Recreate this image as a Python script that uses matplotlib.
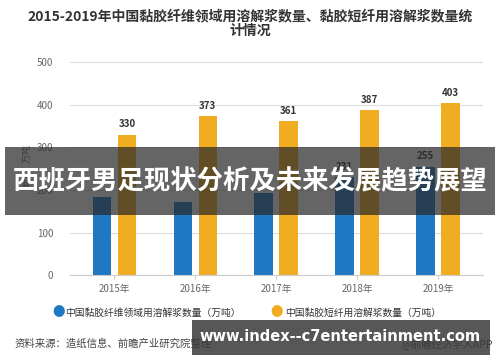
import matplotlib.pyplot as plt
import numpy as np
from matplotlib.patches import Rectangle

plt.rcParams['font.family'] = ['Noto Sans CJK SC', 'DejaVu Sans']

years = ['2015年', '2016年', '2017年', '2018年', '2019年']
fiber = [183, 172, 192, 231, 255]
staple = [330, 373, 361, 387, 403]
shown_fiber = [None, None, None, 231, 255]
yticks = [0, 100, 200, 300, 400, 500]

blue = '#1f78c1'
orange = '#f0ad22'

fig = plt.figure(figsize=(5, 3.62), dpi=100)
ax = fig.add_axes([0.14, 0.24, 0.825, 0.6])

x = np.arange(len(years))
w = 0.23
ax.bar(x - 0.155, fiber, w, color=blue, zorder=2)
ax.bar(x + 0.155, staple, w, color=orange, zorder=2)
for i, v in enumerate(staple):
    ax.text(x[i] + 0.155, v + 12, str(v), ha='center', va='bottom',
            fontsize=7, fontweight='bold', color='#333333')
for i, v in enumerate(shown_fiber):
    if v is not None:
        ax.text(x[i] - 0.155, v + 12, str(v), ha='center', va='bottom',
                fontsize=7, fontweight='bold', color='#333333')

ax.set_ylim(0, 510)
ax.set_xlim(-0.55, 4.55)
ax.set_yticks(yticks)
ax.set_xticks(x)
ax.set_xticklabels(years)
ax.tick_params(axis='y', length=0, labelsize=7, colors='#666666', pad=12)
ax.tick_params(axis='x', length=3, labelsize=7, colors='#666666', color='#cccccc')
ax.grid(axis='y', color='#dddddd', linewidth=0.8, zorder=0)
for s in ['top', 'right', 'left']:
    ax.spines[s].set_visible(False)
ax.spines['bottom'].set_color('#cccccc')
ax.set_ylabel('单位：万吨', fontsize=6.5, color='#666666', labelpad=4)

fig.text(0.5, 0.935, '2015-2019年中国黏胶纤维领域用溶解浆数量、黏胶短纤用溶解浆数量统\n计情况',
         ha='center', va='center', fontsize=10, fontweight='bold', color='#333333',
         linespacing=1.0)

# legend
fig.text(0.105, 0.137, '●', color=blue, fontsize=9, va='center')
fig.text(0.13, 0.137, '中国黏胶纤维领域用溶解浆数量（万吨）', fontsize=7,
         color='#333333', va='center')
fig.text(0.54, 0.137, '●', color=orange, fontsize=9, va='center')
fig.text(0.57, 0.137, '中国黏胶短纤用溶解浆数量（万吨）', fontsize=7,
         color='#333333', va='center')

fig.text(0.03, 0.052, '资料来源：造纸信息、前瞻产业研究院整理', fontsize=7.5,
         color='#444444', va='center')
fig.text(0.985, 0.052, '@前瞻经济学人APP', fontsize=7.5, color='#444444',
         va='center', ha='right')

# overlay banners
fig.patches.append(Rectangle((0.01, 0.405), 0.98, 0.19, transform=fig.transFigure,
                             facecolor='#2a2a2a', alpha=0.72, zorder=5))
fig.text(0.5, 0.497, '西班牙男足现状分析及未来发展趋势展望', ha='center', va='center',
         fontsize=19, fontweight='bold', color='white', zorder=6)
fig.patches.append(Rectangle((0.384, 0.019), 0.596, 0.097, transform=fig.transFigure,
                             facecolor='#3a3a3a', alpha=0.85, zorder=5))
fig.text(0.68, 0.07, 'www.index--c7entertainment.com', ha='center', va='center',
         fontsize=10.5, fontweight='bold', color='white', zorder=6, family='DejaVu Sans')

fig.savefig('out.png', dpi=100)
